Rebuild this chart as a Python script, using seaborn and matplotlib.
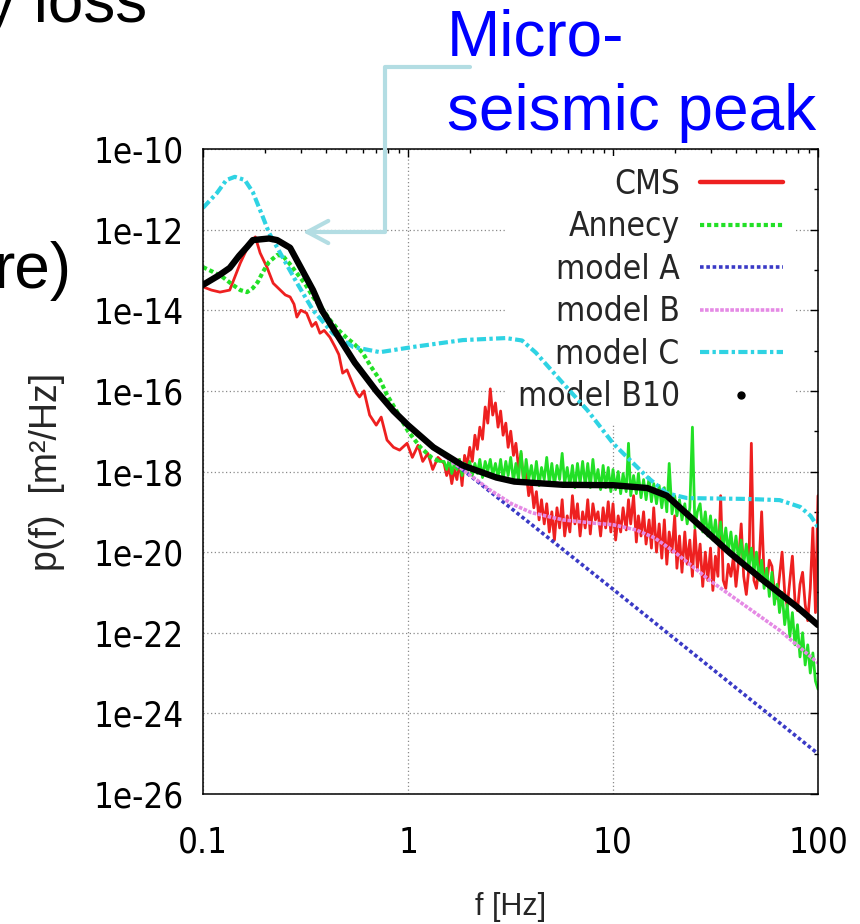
import os
import numpy as np
import matplotlib
matplotlib.use("Agg")
import matplotlib.pyplot as plt
import seaborn as sns
from matplotlib import font_manager
from matplotlib.font_manager import FontProperties
from matplotlib.lines import Line2D
from matplotlib.patches import FancyArrowPatch
from matplotlib.path import Path
from matplotlib.ticker import FixedLocator, FixedFormatter, LogLocator, NullFormatter

# frequencies in Hz, spectra given as log10 of p(f) [m^2/Hz]

# measured spectra, low-frequency part
cms_f = [0.1, 0.11, 0.121, 0.135, 0.145, 0.152, 0.163, 0.172, 0.18, 0.19, 0.205, 0.22, 0.238,
         0.252, 0.266, 0.278, 0.287, 0.3, 0.32, 0.34, 0.355, 0.372, 0.39, 0.416, 0.44, 0.46,
         0.48, 0.504, 0.53, 0.56, 0.58, 0.61, 0.65, 0.7, 0.74, 0.79, 0.85, 0.91, 0.99, 1.05,
         1.12, 1.18, 1.25, 1.32, 1.4]
cms_logp = [-13.42, -13.5, -13.55, -13.5, -13.1, -12.83, -12.5, -12.3, -12.18, -12.58, -12.93,
            -13.33, -13.5, -13.62, -13.67, -13.85, -14.17, -14.0, -14.07, -14.4, -14.3, -14.57,
            -14.5, -14.67, -14.9, -15.1, -15.56, -15.48, -15.75, -16.05, -16.15, -16.0, -16.6,
            -16.85, -16.65, -17.22, -17.4, -17.47, -17.3, -17.65, -17.35, -17.75, -17.55,
            -17.95, -17.65]

annecy_f = [0.1, 0.112, 0.125, 0.138, 0.152, 0.164, 0.175, 0.185, 0.196, 0.21, 0.23, 0.245,
            0.265, 0.287, 0.315, 0.344, 0.38, 0.416, 0.46, 0.504, 0.55, 0.6, 0.66, 0.73, 0.79,
            0.88, 1.0, 1.15, 1.3, 1.42]
annecy_logp = [-12.93, -13.05, -13.18, -13.35, -13.5, -13.55, -13.45, -13.3, -13.05, -12.8,
               -12.63, -12.65, -12.85, -13.08, -13.35, -13.67, -13.95, -14.24, -14.5, -14.69,
               -14.85, -15.05, -15.4, -15.73, -16.1, -16.5, -17.0, -17.4, -17.65, -17.75]

# measured spectra, noisy part from 1.5 Hz up
noise_f = [1.5, 1.544, 1.589, 1.635, 1.683, 1.732, 1.783, 1.835, 1.888, 1.943,
           2.0, 2.06, 2.12, 2.18, 2.24, 2.31, 2.38, 2.45, 2.52, 2.59,
           2.67, 2.75, 2.83, 2.91, 3.0, 3.08, 3.17, 3.27, 3.36, 3.46,
           3.56, 3.67, 3.77, 3.88, 4.0, 4.11, 4.23, 4.36, 4.48, 4.62,
           4.75, 4.89, 5.03, 5.18, 5.33, 5.49, 5.65, 5.81, 5.98, 6.16,
           6.34, 6.52, 6.71, 6.91, 7.11, 7.32, 7.53, 7.75, 7.98, 8.21,
           8.45, 8.7, 8.95, 9.21, 9.48, 9.76, 10.0, 10.3, 10.6, 10.9,
           11.2, 11.6, 11.9, 12.2, 12.6, 13.0, 13.3, 13.7, 14.1, 14.5,
           15.0, 15.4, 15.8, 16.3, 16.8, 17.3, 17.8, 18.3, 18.8, 19.4,
           20.0, 20.5, 21.1, 21.7, 22.4, 23.0, 23.7, 24.4, 25.1, 25.8,
           26.6, 27.4, 28.2, 29.0, 29.9, 30.7, 31.6, 32.5, 33.5, 34.5,
           35.5, 36.5, 37.6, 38.7, 39.8, 41.0, 42.2, 43.4, 44.7, 46.0,
           47.3, 48.7, 50.1, 51.6, 53.1, 54.6, 56.2, 57.9, 59.6, 61.3,
           63.1, 64.9, 66.8, 68.8, 70.8, 72.9, 75.0, 77.2, 79.4, 81.7,
           84.1, 86.6, 89.1, 91.7, 94.4, 97.2, 100.0]
cms_noise_logp = [-17.8, -18.1, -17.9, -18.3, -17.95, -18.2, -17.7, -18.35, -17.6, -17.85,
                  -17.4, -17.75, -17.1, -17.45, -16.9, -17.2, -16.4, -16.8, -15.95, -16.6,
                  -16.3, -16.9, -16.5, -17.1, -16.8, -17.4, -17.0, -17.6, -17.3, -17.9,
                  -17.55, -18.3, -18.0, -18.6, -18.3, -18.9, -18.5, -19.2, -18.7, -19.3,
                  -18.8, -19.5, -19.0, -19.7, -18.9, -19.4, -18.7, -19.6, -19.1, -19.5,
                  -18.6, -19.3, -18.8, -19.6, -19.0, -19.4, -18.7, -19.55, -18.8, -19.2,
                  -19.0, -19.6, -18.9, -19.4, -18.75, -19.5, -18.8, -19.7, -19.1, -19.5,
                  -18.9, -19.45, -18.7, -19.3, -18.6, -19.75, -19.1, -19.6, -19.0, -19.8,
                  -19.2, -19.9, -18.9, -20.0, -19.3, -20.15, -19.2, -20.3, -19.5, -20.0,
                  -19.1, -20.4, -19.6, -20.5, -19.5, -20.3, -19.7, -20.6, -19.45, -20.4,
                  -19.8, -20.85, -20.0, -20.7, -19.9, -20.95, -20.1, -20.6, -18.6, -20.7,
                  -20.9, -20.3, -20.6, -20.1, -20.85, -20.2, -19.3, -20.6, -21.05, -20.4,
                  -17.3, -20.7, -20.9, -20.3, -19.0, -20.6, -20.8, -20.2, -20.35, -21.0,
                  -21.15, -20.6, -20.0, -21.0, -21.35, -20.7, -20.1, -21.2, -21.45, -20.8,
                  -20.5, -21.3, -21.7, -20.9, -19.4, -21.5, -18.6]
annecy_noise_logp = [-17.75, -17.95, -17.7, -18.05, -17.8, -17.95, -17.7, -18.1, -17.8, -18.0,
                     -17.75, -18.1, -17.8, -18.05, -17.7, -18.15, -17.75, -18.0, -17.7, -18.1,
                     -17.8, -18.15, -17.7, -18.2, -17.75, -18.1, -17.65, -18.25, -17.8, -18.2,
                     -17.5, -18.3, -17.7, -18.2, -17.85, -18.3, -17.75, -18.35, -17.9, -18.2,
                     -17.65, -18.3, -17.8, -18.35, -17.85, -18.2, -17.55, -18.3, -17.9, -18.35,
                     -17.85, -18.4, -17.8, -18.3, -17.75, -18.35, -17.8, -18.4, -17.7, -18.3,
                     -17.95, -18.45, -17.85, -18.4, -17.9, -18.5, -17.95, -18.45, -18.0, -18.55,
                     -18.05, -18.5, -17.3, -18.6, -18.1, -18.55, -18.05, -18.65, -18.2, -18.7,
                     -18.15, -18.75, -18.3, -18.8, -18.35, -18.9, -18.4, -19.0, -17.8, -19.05,
                     -18.6, -19.1, -18.7, -19.2, -18.8, -19.3, -18.9, -16.9, -19.4, -19.0,
                     -18.8, -19.5, -19.0, -19.6, -19.1, -19.7, -19.2, -19.8, -19.25, -19.9,
                     -19.4, -20.0, -19.5, -20.1, -19.6, -20.2, -19.7, -20.3, -19.8, -20.4,
                     -19.9, -20.5, -20.0, -20.7, -20.2, -20.9, -20.4, -21.1, -20.5, -21.3,
                     -20.8, -21.5, -21.0, -21.8, -21.3, -22.1, -21.5, -22.3, -21.8, -22.6,
                     -22.0, -22.8, -22.3, -23.0, -22.5, -23.2, -23.4]

# models
model_a_f = [0.1, 0.12, 0.135, 0.15, 0.164, 0.175, 0.21, 0.23, 0.266, 0.297, 0.344, 0.38, 0.45,
             0.55, 0.7, 0.85, 1.0, 10.0, 100.0]
model_a_logp = [-13.37, -13.13, -12.95, -12.65, -12.43, -12.26, -12.22, -12.26, -12.45, -12.9,
                -13.5, -14.0, -14.6, -15.3, -16.0, -16.5, -16.88, -20.92, -25.0]

model_b_f = [0.1, 0.12, 0.135, 0.15, 0.164, 0.175, 0.21, 0.23, 0.266, 0.297, 0.344, 0.38, 0.45,
             0.55, 0.7, 0.85, 1.0, 1.33, 1.85, 2.5, 3.2, 4.0, 5.7, 8.0, 10.0, 13.0, 16.0, 20.0,
             30.0, 45.0, 65.0, 100.0]
model_b_logp = [-13.37, -13.13, -12.95, -12.65, -12.43, -12.26, -12.22, -12.26, -12.45, -12.9,
                -13.5, -14.0, -14.6, -15.3, -16.0, -16.5, -16.88, -17.42, -17.95, -18.45, -18.8,
                -19.02, -19.2, -19.28, -19.32, -19.45, -19.65, -20.0, -20.72, -21.36, -21.94,
                -22.75]

model_c_f = [0.1, 0.117, 0.13, 0.143, 0.16, 0.175, 0.196, 0.21, 0.238, 0.287, 0.344, 0.43, 0.54,
             0.73, 1.06, 1.85, 3.0, 3.6, 4.2, 5.7, 7.5, 10.0, 14.7, 18.3, 23.0, 44.6, 65.0,
             82.0, 92.0, 100.0]
model_c_logp = [-11.46, -11.09, -10.77, -10.69, -10.77, -11.07, -11.69, -12.08, -12.58, -13.32,
                -14.0, -14.57, -14.91, -15.04, -14.91, -14.74, -14.69, -14.75, -15.05, -15.81,
                -16.48, -17.3, -18.14, -18.54, -18.66, -18.68, -18.71, -18.88, -19.1, -19.38]

model_b10_f = [0.1, 0.12, 0.135, 0.15, 0.164, 0.175, 0.21, 0.23, 0.266, 0.297, 0.344, 0.38,
               0.45, 0.55, 0.7, 0.85, 1.0, 1.33, 1.85, 2.7, 3.3, 5.7, 10.0, 14.7, 18.3, 25.7,
               37.2, 54.0, 79.0, 100.0]
model_b10_logp = [-13.37, -13.13, -12.95, -12.65, -12.43, -12.26, -12.22, -12.26, -12.45, -12.9,
                  -13.5, -14.0, -14.6, -15.3, -16.0, -16.5, -16.85, -17.4, -17.85, -18.15,
                  -18.25, -18.33, -18.34, -18.41, -18.6, -19.28, -20.02, -20.7, -21.36, -21.81]

legend_labels = ["CMS", "Annecy", "model A", "model B", "model C", "model B10"]
x_ticks = [0.1, 1, 10, 100]
x_tick_labels = ["0.1", "1", "10", "100"]
y_ticks = [1e-26, 1e-24, 1e-22, 1e-20, 1e-18, 1e-16, 1e-14, 1e-12, 1e-10]
y_tick_labels = ["1e-26", "1e-24", "1e-22", "1e-20", "1e-18", "1e-16", "1e-14", "1e-12", "1e-10"]
y_minor_ticks = [1e-25, 1e-23, 1e-21, 1e-19, 1e-17, 1e-15, 1e-13, 1e-11]

RED = "#ee2020"
GREEN = "#22e026"
BLUE = "#3a3ac6"
PINK = "#e58ae5"
CYAN = "#2fd3e3"
ARROW = "#b3dde3"


def narrow_font_file():
    # gnuplot used a narrow Helvetica for ticks and key; take the closest narrow face around
    skip = ("Bold", "Italic", "Oblique", "Semi", "Light", "Medium", "Black", "Thin")
    found = []
    for f in font_manager.fontManager.ttflist:
        base = os.path.basename(f.fname)
        if ("Narrow" in base or "Condensed" in base) and not any(s in base for s in skip):
            found.append(f.fname)

    def rank(p):
        b = os.path.basename(p)
        if "Liberation" in b:
            return 0
        if "Noto" in b and "ExtraCondensed" in b:
            return 1
        if "Noto" in b:
            return 2
        return 3 if "Extra" not in b else 4

    found.sort(key=lambda p: (rank(p), p))
    return found[0] if found else None


sns.set_theme(style="white")
plt.rcParams["font.family"] = ["Liberation Sans", "DejaVu Sans"]
plt.rcParams["axes.edgecolor"] = "black"
plt.rcParams["axes.linewidth"] = 1.1

narrow = narrow_font_file()
if narrow:
    tick_font = FontProperties(fname=narrow, size=25)
    key_font = FontProperties(fname=narrow, size=24)
else:
    tick_font = FontProperties(family="Liberation Sans", size=23)
    key_font = FontProperties(family="Liberation Sans", size=22)

fig = plt.figure(figsize=(8.6, 9.24), dpi=100)
ax = fig.add_axes([203 / 860, 130 / 924, 615 / 860, 645 / 924])
ax.set_xscale("log")
ax.set_yscale("log")


def draw(f, logp, **kw):
    sns.lineplot(x=np.array(f), y=10.0 ** np.array(logp), ax=ax,
                 estimator=None, sort=False, **kw)


draw(cms_f + noise_f, cms_logp + cms_noise_logp, color=RED, lw=2.0)
draw(annecy_f, annecy_logp, color=GREEN, lw=3.0, linestyle=(0, (1, 0.7)))
draw(annecy_f[-1:] + noise_f, annecy_logp[-1:] + annecy_noise_logp, color=GREEN, lw=2.0)
draw(model_a_f, model_a_logp, color=BLUE, lw=2.6, linestyle=(0, (1, 0.75)))
draw(model_b_f, model_b_logp, color=PINK, lw=2.6, linestyle=(0, (1, 0.4)))
draw(model_c_f, model_c_logp, color=CYAN, lw=3.0, linestyle=(0, (2.2, 0.8, 0.8, 0.8)))
draw(model_b10_f, model_b10_logp, color="black", lw=4.6, solid_capstyle="round")

ax.set_xlim(0.1, 100)
ax.set_ylim(1e-26, 1e-10)

ax.xaxis.set_major_locator(FixedLocator(x_ticks))
ax.xaxis.set_major_formatter(FixedFormatter(x_tick_labels))
ax.xaxis.set_minor_locator(LogLocator(base=10, subs=np.arange(2, 10)))
ax.xaxis.set_minor_formatter(NullFormatter())
ax.yaxis.set_major_locator(FixedLocator(y_ticks))
ax.yaxis.set_major_formatter(FixedFormatter(y_tick_labels))
ax.yaxis.set_minor_locator(FixedLocator(y_minor_ticks))
ax.yaxis.set_minor_formatter(NullFormatter())

ax.tick_params(which="both", direction="in", top=True, right=True, colors="black")
ax.tick_params(which="major", length=6, width=1.0)
ax.tick_params(which="minor", length=3, width=1.0)
ax.tick_params(axis="x", which="major", pad=23)
ax.tick_params(axis="y", which="major", pad=14)
for lab in ax.get_xticklabels() + ax.get_yticklabels():
    lab.set_fontproperties(tick_font)

ax.set_axisbelow(True)
ax.grid(True, which="major", color="#8a8a8a", linestyle=(0, (1, 2)), linewidth=0.9)

ax.set_xlabel("f [Hz]", fontsize=22, family="Liberation Sans")
ax.xaxis.set_label_coords(0.5, -0.152)
ax.set_ylabel("p(f)  [m²/Hz]", fontsize=27, family="Liberation Sans")
ax.yaxis.set_label_coords(-0.224, 0.5)

handles = [
    Line2D([], [], color=RED, lw=3.2),
    Line2D([], [], color=GREEN, lw=3.0, linestyle=(0, (1, 0.7))),
    Line2D([], [], color=BLUE, lw=2.6, linestyle=(0, (1, 0.75))),
    Line2D([], [], color=PINK, lw=2.6, linestyle=(0, (1, 0.4))),
    Line2D([], [], color=CYAN, lw=3.0, linestyle=(0, (2.2, 0.8, 0.8, 0.8))),
    Line2D([], [], color="black", linestyle="none", marker="o", markersize=5),
]
leg = ax.legend(handles, legend_labels, loc="upper right", bbox_to_anchor=(0.962, 0.989),
                borderaxespad=0, borderpad=0.35, markerfirst=False, frameon=True,
                fancybox=False, framealpha=1, facecolor="white", edgecolor="none",
                prop=key_font, handlelength=2.5, handletextpad=0.6, labelspacing=0.285)
leg.set_zorder(1.5)

# annotation pointing to the micro-seismic peak
pts = [(470, 67), (385, 67), (385, 232), (303, 232)]
arrow = FancyArrowPatch(path=Path([(x / 860, 1 - y / 924) for x, y in pts]),
                        arrowstyle="->,head_length=0.75,head_width=0.4", mutation_scale=20,
                        color=ARROW, lw=3.0, transform=fig.transFigure)
fig.add_artist(arrow)

fig.text(447 / 860, 1 - 56 / 924, "Micro-", color="#0000ff", fontsize=46,
         family="Liberation Sans", va="baseline", ha="left")
fig.text(447 / 860, 1 - 130 / 924, "seismic peak", color="#0000ff", fontsize=46,
         family="Liberation Sans", va="baseline", ha="left")

# fragments of the surrounding slide text, cut by the edge as in the source slide
fig.text(-16 / 860, 1 - 22 / 924, "y loss", color="black", fontsize=46,
         family="Liberation Sans", va="baseline", ha="left")
fig.text(-6 / 860, 1 - 288 / 924, "re)", color="black", fontsize=46,
         family="Liberation Sans", va="baseline", ha="left")

fig.savefig("out.png", dpi=100)
